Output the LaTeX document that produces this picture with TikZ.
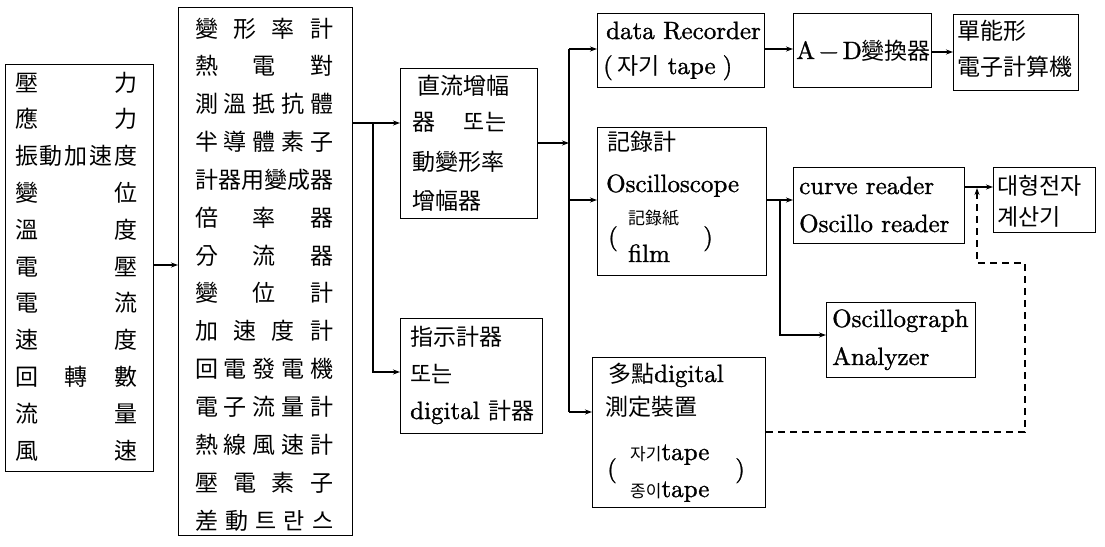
\documentclass[tikz,border=0pt]{standalone}
\usepackage{fontspec}
\setmainfont{lmroman10-regular}[Extension=.otf, FakeBold=1.2]
\newfontfamily\cjk{Noto Sans CJK KR}
\usetikzlibrary{arrows.meta}
\newcommand{\lat}{\fontsize{25}{30}\selectfont}
\newcommand{\kc}{\cjk\fontsize{23}{28}\selectfont}
\newcommand{\ks}{\cjk\fontsize{17}{20}\selectfont}
\newcommand{\jr}[2]{\makebox[#1][s]{#2}}
\tikzset{
  box/.style={draw, line width=1.3pt, anchor=north west, inner sep=0pt, minimum width=#1},
  lbl/.style={anchor=west, inner sep=0pt, text height=18pt, text depth=4pt, font=\lat},
  ln/.style={line width=1.2pt},
  arr/.style={line width=1.2pt, -{Stealth[length=7pt,width=5pt]}},
  dsh/.style={line width=1.1pt, dash pattern=on 7pt off 5pt, -{Stealth[length=7pt,width=5pt]}}
}
\begin{document}
\begin{tikzpicture}[x=1pt,y=-1pt]
\useasboundingbox (0,0) rectangle (1105,546);
\fill[white] (0,0) rectangle (1105,546);

% boxes
\node[box=148pt, minimum height=407pt] (meas) at (5,64) {};
\node[box=174pt, minimum height=528pt] (sens) at (178,7) {};
\node[box=137pt, minimum height=150pt] (amp) at (400,68) {};
\node[box=142pt, minimum height=115pt] (ind) at (400,318) {};
\node[box=167pt, minimum height=74pt] (rec) at (597,13) {};
\node[box=138pt, minimum height=74pt] (ad) at (793,13) {};
\node[box=125pt, minimum height=76pt] (comp) at (953,14) {};
\node[box=169pt, minimum height=148pt] (osc) at (597,127) {};
\node[box=171pt, minimum height=76pt] (cr) at (793,167) {};
\node[box=102pt, minimum height=65pt] (big) at (993,167) {};
\node[box=149pt, minimum height=75pt] (og) at (826,302) {};
\node[box=173pt, minimum height=150pt] (multi) at (592,357) {};

% left box rows
\foreach \t [count=\i] in {壓\hfill 力, 應\hfill 力, 振\hfill 動\hfill 加\hfill 速\hfill 度, 變\hfill 位, 溫\hfill 度, 電\hfill 壓, 電\hfill 流, 速\hfill 度, 回\hfill 轉\hfill 數, 流\hfill 量, 風\hfill 速}
  \node[lbl] (m\i) at (15,{84+36.8*(\i-1)}) {\kc\jr{122pt}{\t}};

% sensor box rows
\foreach \t [count=\i] in {變\hfill 形\hfill 率\hfill 計, 熱\hfill 電\hfill 對, 測\hfill 溫\hfill 抵\hfill 抗\hfill 體, 半\hfill 導\hfill 體\hfill 素\hfill 子, 計\hfill 器\hfill 用\hfill 變\hfill 成\hfill 器, 倍\hfill 率\hfill 器, 分\hfill 流\hfill 器, 變\hfill 位\hfill 計, 加\hfill 速\hfill 度\hfill 計, 回\hfill 電\hfill 發\hfill 電\hfill 機, 電\hfill 子\hfill 流\hfill 量\hfill 計, 熱\hfill 線\hfill 風\hfill 速\hfill 計, 壓\hfill 電\hfill 素\hfill 子, 差\hfill 動\hfill 트\hfill 란\hfill 스}
  \node[lbl] (s\i) at (195,{30+37.85*(\i-1)}) {\kc\jr{138pt}{\t}};

% amplifier
\node[lbl] (a1) at (417,87) {\kc 直流增幅};
\node[lbl] (a2) at (412,123) {\kc\jr{94pt}{器\hfill 또는}};
\node[lbl] (a3) at (412,163) {\kc 動變形率};
\node[lbl] (a4) at (412,202) {\kc 增幅器};

% indicator
\node[lbl] (i1) at (410,338) {\kc 指示計器};
\node[lbl] (i2) at (410,375) {\kc 또는};
\node[lbl] (i3) at (410,412) {digital {\kc 計器}};

% recorder
\node[lbl] (r1) at (606,32) {data Recorder};
\node[lbl] (r2) at (603,67) {(\,{\kc 자기} tape\;)};

% A-D
\node[lbl] (ad1) at (796,52) {A\,−\,D{\kc 變換器}};

% computer
\node[lbl] (c1) at (957,32) {\kc 單能形};
\node[lbl] (c2) at (957,68) {\kc 電子計算機};

% oscilloscope
\node[lbl] (o1) at (607,143) {\kc 記錄計};
\node[lbl] (o2) at (606,185) {Oscilloscope};
\node[lbl] (o3) at (628,217) {\ks 記錄紙};
\node[lbl] (o4) at (628,255) {film};
\node[lbl] (o5) at (608,238) {(};
\node[lbl] (o6) at (703,238) {)};

% curve reader
\node[lbl] (cr1) at (799,187) {curve reader};
\node[lbl] (cr2) at (799,225) {Oscillo reader};

% big computer
\node[lbl] (b1) at (997,187) {\kc 대형전자};
\node[lbl] (b2) at (997,218) {\kc 계산기};

% oscillograph
\node[lbl] (g1) at (832,320) {Oscillograph};
\node[lbl] (g2) at (832,358) {Analyzer};

% multipoint
\node[lbl] (p1) at (608,375) {{\kc 多點}digital};
\node[lbl] (p2) at (605,408) {\kc 測定裝置};
\node[lbl] (p3) at (630,453) {{\ks 자기}tape};
\node[lbl] (p4) at (630,490) {{\ks 종이}tape};
\node[lbl] (p5) at (607,470) {(};
\node[lbl] (p6) at (735,470) {)};

% junction coordinates
\coordinate (j1) at (165,265);
\coordinate (j2) at (373,123);
\coordinate (j3) at (373,372);
\coordinate (bamp) at (569,143);
\coordinate (btop) at (569,49);
\coordinate (bmid) at (569,200);
\coordinate (bbot) at (569,412);
\coordinate (j4) at (780,200);
\coordinate (j5) at (780,335);
\coordinate (j6) at (977,187);
\coordinate (d1) at (1025,432);
\coordinate (d2) at (1025,263);
\coordinate (d3) at (977,263);

% connectors
\draw[arr] (meas.east |- j1) -- (sens.west |- j1);
\draw[arr] (sens.east |- j2) -- (amp.west |- j2);
\draw[arr] (j2) -- (j3) -- (ind.west |- j3);
\draw[arr] (amp.east |- bamp) -- (bamp);
\draw[ln] (btop) -- (bbot);
\draw[arr] (btop) -- (rec.west |- btop);
\draw[arr] (bmid) -- (osc.west |- bmid);
\draw[arr] (bbot) -- (multi.west |- bbot);
\draw[arr] (rec.east |- btop) -- (ad.west |- btop);
\draw[arr] (ad.east |- ad1) -- (comp.west |- ad1);
\draw[arr] (osc.east |- j4) -- (cr.west |- j4);
\draw[arr] (j4) -- (j5) -- (og.west |- j5);
\draw[arr] (cr.east |- j6) -- (big.west |- j6);
\draw[dsh, shorten >=1pt] (multi.east |- d1) -- (d1) -- (d2) -- (d3) -- (j6);
\end{tikzpicture}
\end{document}
